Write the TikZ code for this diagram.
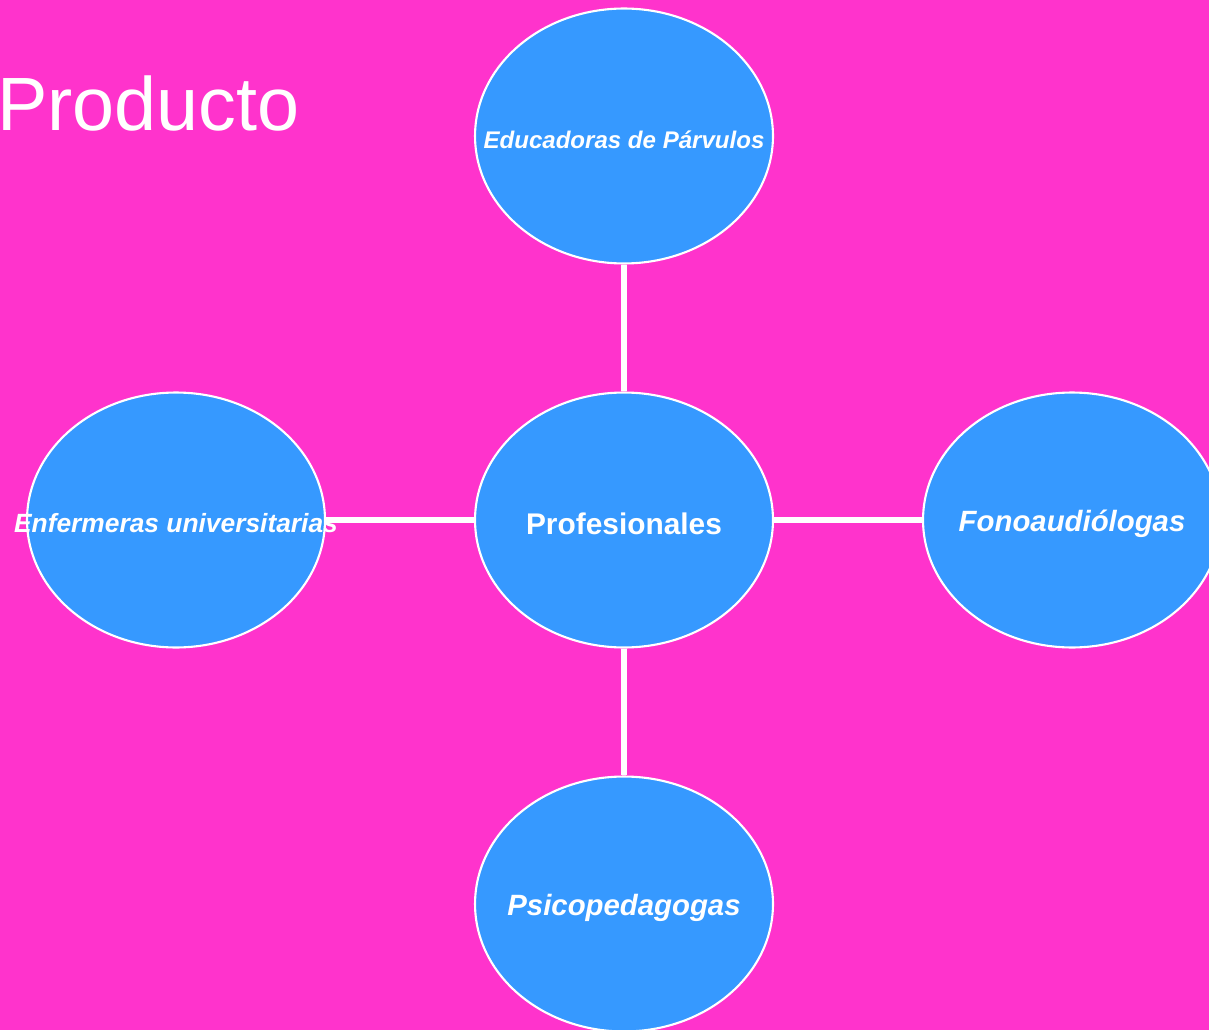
\documentclass[tikz,border=0pt]{standalone}
\usepackage{fontspec}
\setmainfont{Liberation Sans}
\usepackage{xcolor}
\definecolor{fondo}{RGB}{255,51,204}
\definecolor{burbuja}{RGB}{54,153,255}
\usetikzlibrary{shapes.geometric}
\tikzset{
  bubble/.style={
    ellipse,
    draw=white,
    line width=1.2pt,
    fill=burbuja,
    minimum width=5.96cm,
    minimum height=5.1cm,
    inner sep=0pt
  },
  bubble-text/.style={
    text=white,
    font=\bfseries\itshape\fontsize{16.7}{20}\selectfont,
    inner sep=0pt,
    yshift=-2pt
  },
  spoke/.style={
    draw=white,
    line width=3.3pt,
    -
  },
}

\begin{document}
\begin{tikzpicture}[x=0.02cm,y=-0.02cm]

  \def\WIDTH{1209}
  \def\HEIGHT{1030}
  \def\XMID{624}
  \def\YMID{520}
  \def\DX{448}
  \def\DY{384}

  % background
  \useasboundingbox (0,0) rectangle (\WIDTH,\HEIGHT);
  \fill[fondo] (0,0) rectangle (\WIDTH,\HEIGHT);
  \clip (0,0) rectangle (\WIDTH,\HEIGHT);

  % title
  \node[anchor=base west, inner sep=0pt, text=white,
    font=\fontsize{43}{50}\selectfont] (title) at (-3,131) {Producto};

  % bubbles
  \node[bubble, label={[bubble-text, font=\bfseries\fontsize{17}{20}\selectfont]center:Profesionales}]
    (center) at (\XMID,\YMID) {};
  \node[bubble, label={[bubble-text, font=\bfseries\itshape\fontsize{13.7}{16}\selectfont]center:Educadoras de Párvulos}]
    (top) at (\XMID,\YMID-\DY) {};
  \node[bubble, label={[bubble-text, font=\bfseries\itshape\fontsize{15}{17}\selectfont]center:Enfermeras universitarias}]
    (left) at (\XMID-\DX,\YMID) {};
  \node[bubble, label={[bubble-text]center:Fonoaudiólogas}]
    (right) at (\XMID+\DX,\YMID) {};
  \node[bubble, label={[bubble-text]center:Psicopedagogas}]
    (bottom) at (\XMID,\YMID+\DY) {};

  % spokes
  \draw[spoke] (center) -- (top);
  \draw[spoke] (center) -- (right);
  \draw[spoke] (center) -- (bottom);
  \draw[spoke] (center) -- (left);

\end{tikzpicture}
\end{document}
